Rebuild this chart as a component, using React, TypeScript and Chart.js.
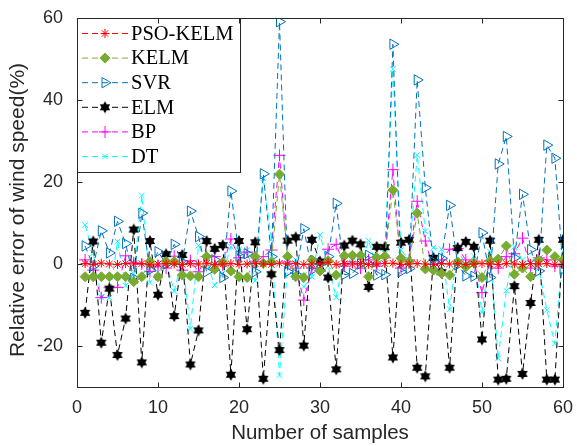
import React, { useEffect, useRef } from "react";
import { Chart, registerables } from "chart.js";
import { drawPoint } from "chart.js/helpers";

Chart.register(...registerables);

const samples = [
  1, 2, 3, 4, 5, 6, 7, 8, 9, 10, 11, 12, 13, 14, 15, 16, 17, 18, 19, 20,
  21, 22, 23, 24, 25, 26, 27, 28, 29, 30, 31, 32, 33, 34, 35, 36, 37, 38, 39, 40,
  41, 42, 43, 44, 45, 46, 47, 48, 49, 50, 51, 52, 53, 54, 55, 56, 57, 58, 59, 60,
];

const psoKelm = [
  0.1, -0.1, 0.2, 0, -0.1, 0.1, 0, 0.1, -0.2, 0, 0.1, 0, -0.1, 0.1, 0, 0.2, -0.1, 0, 0.1, -0.1,
  0, 0.1, 0, -0.1, 0.2, 0, 0.1, -0.1, 0, 0.1, 0.4, -0.1, 0.1, 0, 0.1, -0.1, 0, 0.1, 0.2, -0.1,
  0, 0.1, 0, -0.1, 0.1, 0, 0.1, -0.1, 0, 0.1, 0, -0.1, 0.1, 0, -0.1, 0.1, 0, 0.1, -0.1, 0,
];

const kelm = [
  -3.1, -3.1, -3.1, -3.1, -3.1, -3.1, -4.3, -3.1, 0.6, -3.1, 0.6, 0.6, -2.7, -2.9, -3.1, 1.8, -1.3, 0.4, -1.7, -3.1,
  -3.3, 1.8, 0.2, 0.5, 21.9, 1.8, -3.1, -3.3, 1.0, -1.7, 0.8, -2.7, 2.0, 2.1, 2.1, -3.1, 1.6, 1.9, 18.0, 1.4,
  0.6, 12.4, -1.2, -1.5, -2.3, -2.7, 0.5, -0.7, 0.3, -3.3, 0.8, 1.2, 4.4, -2.5, -1.0, -3.1, 1.0, 3.4, 1.8, 1.0,
];

const svr = [
  4.4, -0.5, 8.1, 2.7, 10.4, 5.0, -3.5, 12.4, -1.5, 3.0, 0.0, 4.8, 0.5, 12.9, 6.7, -1.9, 1.0, -3.3, 17.8, 2.0,
  2.5, -1.9, 22.0, 1.8, 59.1, -1.9, -2.5, 8.6, -1.5, 0.0, 1.8, 14.8, -2.6, -2.3, 0.0, 2.1, -2.7, -2.6, 53.6, -1.9,
  -1.1, 44.9, 18.6, 0.5, 1.4, 14.3, -0.2, -2.9, -3.0, 7.6, -3.3, 24.4, 31.1, 1.5, 17.0, 3.5, -1.7, 29.0, 25.8, -1.3,
];

const elm = [
  -11.9, 5.5, -19.2, -6.0, -22.2, -13.3, 8.4, -24.0, 5.6, -7.5, 2.4, -12.7, 2.2, -24.5, -16.2, 5.6, 3.7, 4.6, -27.0, 5.6,
  -15.9, 5.3, -28.0, -2.5, -21.0, 5.7, 6.5, -19.9, 5.9, 0.6, -3.3, -25.7, 4.5, 5.7, 4.8, -5.6, 4.2, 4.1, -22.8, 5.2,
  5.9, -25.3, -27.4, 1.5, -2.0, -25.3, 3.9, 5.4, 4.2, -18.4, 5.7, -28.2, -28.0, -5.4, -26.8, -9.5, 5.9, -28.2, -28.2, 5.9,
];

const bp = [
  1.0, -1.5, -8.2, -5.8, -5.7, 2.0, 0.3, 0.0, -1.8, -0.5, -1.0, 1.9, -1.5, 0.8, -1.9, 1.8, 1.8, -0.3, 6.1, 1.5,
  2.9, 0.5, 1.8, 3.4, 26.5, 0.5, -1.0, -8.8, -1.0, -1.5, 3.6, 4.8, -0.5, 0.5, -1.0, 1.0, -0.5, 1.5, 23.0, -1.0,
  1.0, 15.3, 5.6, -1.2, 1.0, 3.6, 3.8, 1.0, 0.5, -7.0, 0.8, -1.0, 1.8, 2.5, 6.3, -1.0, 1.5, 1.0, -0.5, 1.0,
];

const dt = [
  9.5, 2.6, -8.1, -8.2, 5.5, -5.3, -2.3, 16.7, -4.5, -2.0, 0.5, -6.6, 1.4, -15.8, 4.5, 0.5, -5.2, -2.3, 4.2, 3.5,
  3.4, -4.1, 20.9, 5.9, -27.1, -0.7, 1.0, -5.5, -3.1, 7.1, -0.5, -8.1, 2.0, 0.5, -0.5, 5.7, -1.0, 2.5, 47.5, 3.4,
  1.0, 26.6, 8.0, 4.0, 3.6, -11.0, 3.8, -0.5, 1.9, -11.8, 3.0, -23.0, -6.5, 4.2, 1.0, 0.5, -1.0, -11.2, -19.4, 4.4,
];

const seriesLabels = ["PSO-KELM", "KELM", "SVR", "ELM", "BP", "DT"];
const xTicks = [0, 10, 20, 30, 40, 50, 60];
const yTicks = [-20, 0, 20, 40, 60];
const xTitle = "Number of samples";
const yTitle = "Relative error of wind speed(%)";

function makeHexagram(color: string, r: number): HTMLCanvasElement {
  const size = Math.ceil(r * 2 + 2);
  const c = document.createElement("canvas");
  c.width = size;
  c.height = size;
  const ctx = c.getContext("2d")!;
  const cx = size / 2;
  const cy = size / 2;
  ctx.fillStyle = color;
  for (const off of [-Math.PI / 2, Math.PI / 2]) {
    ctx.beginPath();
    for (let k = 0; k < 3; k++) {
      const a = off + (k * 2 * Math.PI) / 3;
      const px = cx + r * Math.cos(a);
      const py = cy + r * Math.sin(a);
      if (k === 0) ctx.moveTo(px, py);
      else ctx.lineTo(px, py);
    }
    ctx.closePath();
    ctx.fill();
  }
  return c;
}

export default function App() {
  const ref = useRef<HTMLCanvasElement>(null);

  useEffect(() => {
    const canvas = ref.current;
    if (!canvas) return;
    const axisColor = "#262626";
    const fontFamily = 'Arial, "Liberation Sans", sans-serif';
    const elmMarker = makeHexagram("#000000", 6);

    const styles = [
      { values: psoKelm, line: "#FF0000", point: "#FF0000", fill: "#FF0000", style: "star", r: 4.5, rot: 0 },
      { values: kelm, line: "#77AC30", point: "#77AC30", fill: "#77AC30", style: "rectRot", r: 5, rot: 0 },
      { values: svr, line: "#0072BD", point: "#0072BD", fill: "rgba(0,0,0,0)", style: "triangle", r: 6, rot: 90 },
      { values: elm, line: "#000000", point: "#000000", fill: "#000000", style: elmMarker, r: 6, rot: 0 },
      { values: bp, line: "#FF00FF", point: "#FF00FF", fill: "#FF00FF", style: "cross", r: 6, rot: 0 },
      { values: dt, line: "#00FFFF", point: "#00FFFF", fill: "#00FFFF", style: "crossRot", r: 4, rot: 0 },
    ];

    const datasets = styles.map((s, idx) => ({
      label: seriesLabels[idx],
      data: samples.map((x, i) => ({ x, y: s.values[i] })),
      borderColor: s.line,
      borderWidth: 1,
      borderDash: [6, 4],
      pointStyle: s.style as any,
      pointRadius: s.r,
      pointRotation: s.rot,
      pointBorderColor: s.point,
      pointBackgroundColor: s.fill,
      pointBorderWidth: 1,
      tension: 0,
      fill: false,
    }));

    const framePlugin = {
      id: "frame",
      afterDraw(chart: any) {
        const { ctx, chartArea: a, scales } = chart;
        ctx.save();
        // legend
        const lx = a.left, ly = a.top, lw = 163, lh = 154;
        ctx.fillStyle = "#FFFFFF";
        ctx.fillRect(lx, ly, lw, lh);
        ctx.strokeStyle = axisColor;
        ctx.lineWidth = 1;
        ctx.setLineDash([]);
        ctx.strokeRect(Math.round(lx) + 0.5, Math.round(ly) + 0.5, lw, lh);
        chart.data.datasets.forEach((ds: any, i: number) => {
          const y = ly + 15.5 + i * 24.6;
          ctx.save();
          ctx.strokeStyle = ds.borderColor;
          ctx.lineWidth = 1;
          ctx.setLineDash([6, 4]);
          ctx.beginPath();
          ctx.moveTo(lx + 5, y);
          ctx.lineTo(lx + 51, y);
          ctx.stroke();
          ctx.setLineDash([]);
          ctx.strokeStyle = ds.pointBorderColor;
          ctx.fillStyle = ds.pointBackgroundColor;
          ctx.lineWidth = 1;
          drawPoint(ctx, {
            pointStyle: ds.pointStyle,
            radius: ds.pointRadius,
            rotation: ds.pointRotation,
            borderWidth: 1,
          } as any, lx + 28, y);
          ctx.restore();
          ctx.fillStyle = "#000000";
          ctx.font = '20.5px "Liberation Serif", "Times New Roman", serif';
          ctx.textBaseline = "middle";
          ctx.textAlign = "left";
          ctx.fillText(ds.label, lx + 54, y + 1);
        });
        // axes box
        ctx.strokeStyle = axisColor;
        ctx.lineWidth = 1;
        ctx.setLineDash([]);
        const L = Math.round(a.left) + 0.5, R = Math.round(a.right) + 0.5;
        const T = Math.round(a.top) + 0.5, B = Math.round(a.bottom) + 0.5;
        ctx.strokeRect(L, T, R - L, B - T);
        const tl = 5;
        ctx.beginPath();
        xTicks.forEach((v) => {
          const px = Math.round(scales.x.getPixelForValue(v)) + 0.5;
          ctx.moveTo(px, B);
          ctx.lineTo(px, B - tl);
          ctx.moveTo(px, T);
          ctx.lineTo(px, T + tl);
        });
        yTicks.forEach((v) => {
          const py = Math.round(scales.y.getPixelForValue(v)) + 0.5;
          ctx.moveTo(L, py);
          ctx.lineTo(L + tl, py);
          ctx.moveTo(R, py);
          ctx.lineTo(R - tl, py);
        });
        ctx.stroke();
        // y title
        ctx.save();
        ctx.translate(18, 210);
        ctx.rotate(-Math.PI / 2);
        ctx.fillStyle = axisColor;
        ctx.font = `21px ${fontFamily}`;
        ctx.textAlign = "center";
        ctx.textBaseline = "middle";
        ctx.fillText(yTitle, 0, 0);
        ctx.restore();
        ctx.restore();
      },
    };

    const tickFont = { family: fontFamily, size: 18 };
    const titleFont = { family: fontFamily, size: 20.5 };

    const chart = new Chart(canvas, {
      type: "line",
      data: { datasets: datasets as any },
      plugins: [framePlugin],
      options: {
        animation: false,
        responsive: false,
        events: [],
        layout: { padding: { top: 18, right: 14, left: 0, bottom: 0 } },
        plugins: { legend: { display: false }, tooltip: { enabled: false } },
        scales: {
          x: {
            type: "linear",
            min: 0,
            max: 60,
            afterBuildTicks: (s: any) => {
              s.ticks = xTicks.map((v) => ({ value: v }));
            },
            afterFit: (s: any) => {
              s.height = 59;
              s.paddingLeft = 0;
              s.paddingRight = 0;
            },
            grid: { display: false, drawTicks: false },
            border: { display: false },
            ticks: { color: axisColor, font: tickFont, padding: 10, maxRotation: 0 },
            title: { display: true, text: xTitle, color: axisColor, font: titleFont, padding: { top: 0, bottom: 0 } },
          },
          y: {
            type: "linear",
            min: -30,
            max: 60,
            afterBuildTicks: (s: any) => {
              s.ticks = yTicks.map((v) => ({ value: v }));
            },
            afterFit: (s: any) => {
              s.width = 77;
              s.paddingTop = 0;
              s.paddingBottom = 0;
            },
            grid: { display: false, drawTicks: false },
            border: { display: false },
            ticks: { color: axisColor, font: tickFont, padding: 14 },
            title: { display: false },
          },
        },
      } as any,
    });

    return () => chart.destroy();
  }, []);

  return (
    <div style={{ position: "fixed", left: 0, top: 0, width: 577, height: 446, background: "#fff" }}>
      <canvas ref={ref} width={577} height={446} style={{ display: "block" }} />
    </div>
  );
}
